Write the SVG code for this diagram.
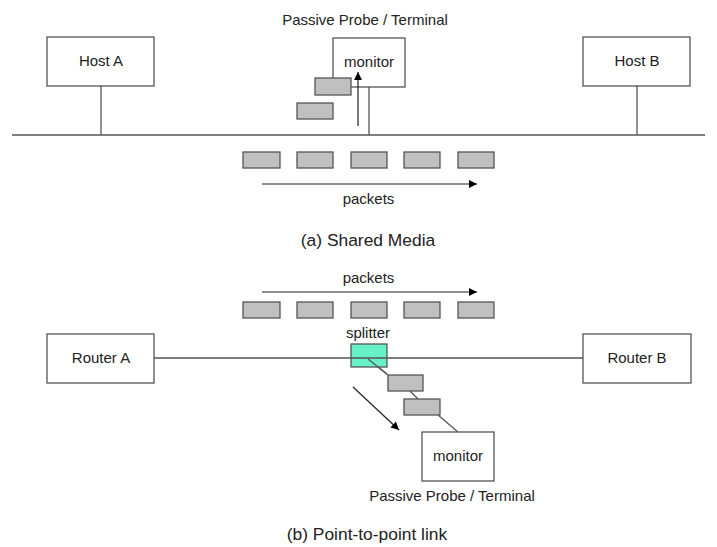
<svg xmlns="http://www.w3.org/2000/svg" width="717" height="547" viewBox="0 0 717 547">
  <defs>
    <marker id="arrow" viewBox="0 0 10 10" refX="10" refY="5" markerWidth="10" markerHeight="8" markerUnits="userSpaceOnUse" orient="auto">
      <path d="M0,0 L10,5 L0,10 z" fill="#000"/>
    </marker>
    <style>
      text { font-family: "Liberation Sans", Arial, sans-serif; font-size: 15px; fill: #222; }
      .mid { text-anchor: middle; }
      .caption { font-size: 17.4px; }
      .node { fill: #fff; stroke: #555; stroke-width: 1.3; }
      .pkt { fill: #c0c0c0; stroke: #555; stroke-width: 1.3; }
      .wire { stroke: #555; stroke-width: 1.3; fill: none; }
      .flow { stroke: #222; stroke-width: 1.2; fill: none; marker-end: url(#arrow); }
      .splitter { fill: #66f2c4; stroke: #555; stroke-width: 1.3; }
    </style>
  </defs>
  <rect width="717" height="547" fill="#fff"/>

  <!-- (a) Shared media -->
  <g id="connectors-a">
    <line class="wire" x1="12" y1="135" x2="705" y2="135"/>
    <line class="wire" x1="101" y1="86" x2="101" y2="135"/>
    <line class="wire" x1="637" y1="86" x2="637" y2="135"/>
    <line class="wire" x1="369" y1="87" x2="369" y2="135"/>
    <line class="flow" x1="262" y1="184" x2="477" y2="184"/>
  </g>
  <g id="host-a">
    <rect class="node" x="47" y="37" width="107" height="49"/>
    <text class="mid" x="101" y="66">Host A</text>
  </g>
  <g id="host-b">
    <rect class="node" x="583" y="37" width="107" height="49"/>
    <text class="mid" x="637" y="66">Host B</text>
  </g>
  <g id="monitor-a">
    <text class="mid" x="365" y="25">Passive Probe / Terminal</text>
    <rect class="node" x="333" y="38" width="72" height="49"/>
    <text class="mid" x="369" y="67">monitor</text>
  </g>
  <!-- packet copy flowing up into the monitor -->
  <line class="flow" x1="358" y1="126" x2="358" y2="72"/>
  <g id="packets-a">
    <rect class="pkt" x="315" y="78" width="36" height="17"/>
    <rect class="pkt" x="297" y="103" width="36" height="16"/>
    <rect class="pkt" x="243" y="152" width="37" height="16"/>
    <rect class="pkt" x="297" y="152" width="36" height="16"/>
    <rect class="pkt" x="351" y="152" width="36" height="16"/>
    <rect class="pkt" x="404" y="152" width="36" height="16"/>
    <rect class="pkt" x="458" y="152" width="36" height="16"/>
    <text class="mid" x="368.5" y="204">packets</text>
  </g>
  <text class="mid caption" x="368" y="246">(a) Shared Media</text>

  <!-- (b) Point-to-point link -->
  <g id="connectors-b">
    <line class="wire" x1="154" y1="358" x2="583" y2="358"/>
    <line class="wire" x1="368" y1="359" x2="388" y2="375"/>
    <line class="wire" x1="410" y1="391" x2="418" y2="399"/>
    <line class="wire" x1="438" y1="415" x2="458" y2="432"/>
    <line class="flow" x1="262" y1="292" x2="477" y2="292"/>
    <line class="flow" x1="353" y1="387" x2="399" y2="430"/>
  </g>
  <g id="router-a">
    <rect class="node" x="47" y="334" width="107" height="49"/>
    <text class="mid" x="101" y="363">Router A</text>
  </g>
  <g id="router-b">
    <rect class="node" x="583" y="334" width="108" height="49"/>
    <text class="mid" x="637" y="363">Router B</text>
  </g>
  <g id="splitter">
    <text class="mid" x="368" y="338">splitter</text>
    <rect class="splitter" x="351" y="344" width="36" height="23"/>
    <line class="wire" x1="351" y1="358" x2="387" y2="358"/>
    <line class="wire" x1="368" y1="359" x2="387" y2="374"/>
  </g>
  <g id="packets-b">
    <text class="mid" x="368.5" y="283">packets</text>
    <rect class="pkt" x="243" y="302" width="37" height="16"/>
    <rect class="pkt" x="297" y="302" width="36" height="16"/>
    <rect class="pkt" x="351" y="302" width="36" height="16"/>
    <rect class="pkt" x="404" y="302" width="36" height="16"/>
    <rect class="pkt" x="458" y="302" width="36" height="16"/>
    <rect class="pkt" x="388" y="375" width="35" height="16"/>
    <rect class="pkt" x="404" y="399" width="36" height="16"/>
  </g>
  <g id="monitor-b">
    <rect class="node" x="422" y="432" width="72" height="49"/>
    <text class="mid" x="458" y="461">monitor</text>
    <text class="mid" x="452" y="501">Passive Probe / Terminal</text>
  </g>
  <text class="mid caption" x="367" y="540">(b) Point-to-point link</text>
</svg>
